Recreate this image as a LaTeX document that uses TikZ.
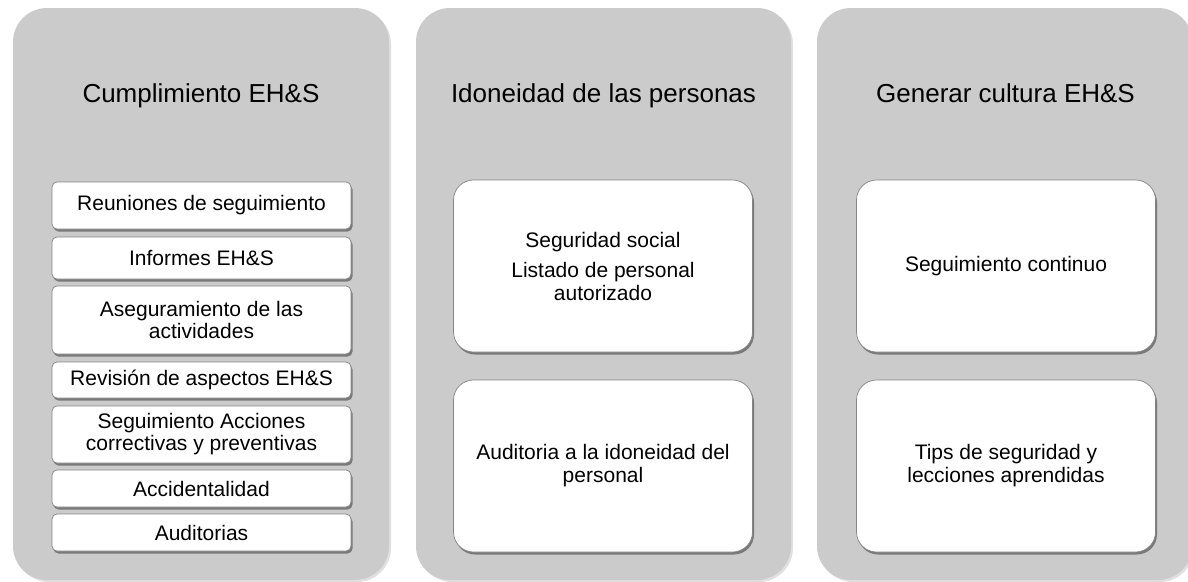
\documentclass[tikz,border=0pt]{standalone}
\usepackage{fontspec}
\setmainfont{Liberation Sans}
\usetikzlibrary{shadows}
\definecolor{panelgray}{HTML}{CBCBCB}
\definecolor{boxline}{HTML}{858585}
\begin{document}
\begin{tikzpicture}[x=1pt,y=-1pt,
  panel/.style={rectangle, rounded corners=34pt, fill=panelgray, draw=none, inner sep=0pt,
    drop shadow={shadow xshift=2pt, shadow yshift=-2pt, opacity=0.12, fill=black}},
  paneltitle/.style={font=\fontsize{26}{30}\selectfont, inner sep=0pt, anchor=base},
  smallbox/.style={rectangle, rounded corners=5pt, fill=white, draw=boxline, line width=0.7pt,
    minimum width=299pt, align=center, inner sep=0pt,
    font=\fontsize{21}{22}\selectfont,
    drop shadow={shadow xshift=1.5pt, shadow yshift=-2.5pt, opacity=0.4, fill=black}},
  bigbox/.style={rectangle, rounded corners=20pt, fill=white, draw=boxline, line width=0.7pt,
    minimum width=299pt, minimum height=172pt, align=center, inner sep=0pt,
    font=\fontsize{21}{23}\selectfont,
    drop shadow={shadow xshift=1.5pt, shadow yshift=-2.5pt, opacity=0.4, fill=black}}]
\useasboundingbox (0,0) rectangle (1188,581);
\fill[white] (0,0) rectangle (1188,581);
\begin{scope}
\clip (0,0) rectangle (1188,581);
% panels
\node[panel, minimum width=376pt, minimum height=572pt] (p1) at (201,294) {};
\node[panel, minimum width=375pt, minimum height=572pt] (p2) at (603.5,294) {};
\node[panel, minimum width=375pt, minimum height=572pt] (p3) at (1004.5,294) {};
\end{scope}
% titles
\node[paneltitle] (t1) at (201,102) {Cumplimiento EH\&S};
\node[paneltitle] (t2) at (603.5,102) {Idoneidad de las personas};
\node[paneltitle] (t3) at (1005.5,102) {Generar cultura EH\&S};
% left column boxes
\node[smallbox, minimum height=47pt] (a1) at (201.5,205.5) {Reuniones de seguimiento};
\node[smallbox, minimum height=42pt] (a2) at (201.5,258) {Informes EH\&S};
\node[smallbox, minimum height=68pt] (a3) at (201.5,320) {Aseguramiento de las\\actividades};
\node[smallbox, minimum height=36pt] (a4) at (201.5,380) {Revisión de aspectos EH\&S};
\node[smallbox, minimum height=57pt] (a5) at (201.5,434.5) {Seguimiento Acciones\\correctivas y preventivas};
\node[smallbox, minimum height=37pt] (a6) at (201.5,488.5) {Accidentalidad};
\node[smallbox, minimum height=37pt] (a7) at (201.5,532.5) {Auditorias};
% middle column boxes
\node[bigbox] (b1) at (603,266) {Seguridad social\\[7pt]Listado de personal\\autorizado};
\node[bigbox] (b2) at (603,466) {Auditoria a la idoneidad del\\personal};
% right column boxes
\node[bigbox] (c1) at (1006,266) {Seguimiento continuo};
\node[bigbox] (c2) at (1006,466) {Tips de seguridad y\\lecciones aprendidas};
\end{tikzpicture}
\end{document}
